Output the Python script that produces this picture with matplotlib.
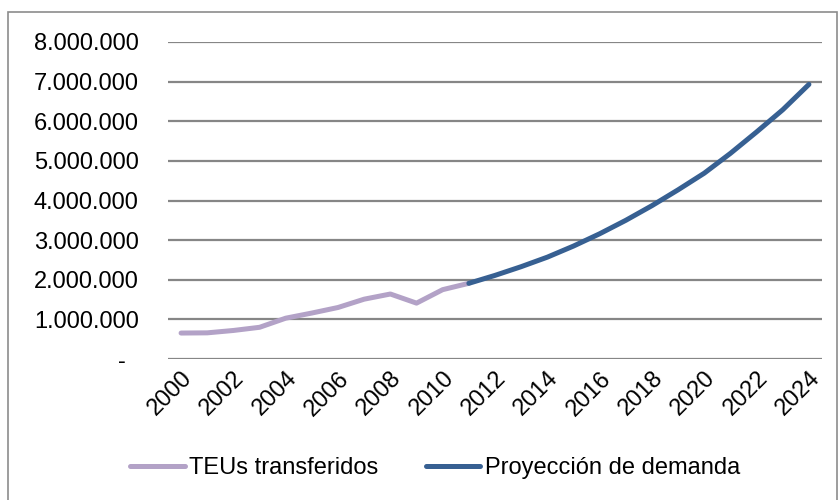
import matplotlib
matplotlib.use("Agg")
import matplotlib.pyplot as plt
from matplotlib.patches import Rectangle

plt.rcParams['font.family'] = ['Liberation Sans', 'DejaVu Sans']

years_hist = [2000, 2001, 2002, 2003, 2004, 2005, 2006, 2007, 2008, 2009, 2010, 2011]
teus_hist = [655000, 660000, 720000, 800000, 1030000, 1160000, 1300000, 1510000, 1640000, 1410000, 1750000, 1910000]

years_proj = [2011, 2012, 2013, 2014, 2015, 2016, 2017, 2018, 2019, 2020, 2021, 2022, 2023, 2024]
teus_proj = [1910000, 2110000, 2330000, 2570000, 2850000, 3160000, 3500000, 3870000, 4270000, 4690000, 5190000, 5730000, 6290000, 6930000]

x_ticks = list(range(2000, 2025, 2))
y_ticks = [0, 1000000, 2000000, 3000000, 4000000, 5000000, 6000000, 7000000, 8000000]
y_labels = ['-  ', '1.000.000', '2.000.000', '3.000.000', '4.000.000', '5.000.000', '6.000.000', '7.000.000', '8.000.000']

c_hist = '#B3A2C7'
c_proj = '#376092'
fs = 17

fig = plt.figure(figsize=(8.4, 5.0), dpi=100)
fig.patches.append(Rectangle((8/840, -0.01), 829/840, 1 - 12/500 + 0.01, transform=fig.transFigure,
                             fill=False, edgecolor='#8c8c8c', linewidth=1.2))
ax = fig.add_axes([168/840, 1 - 359/500, (822-168)/840, (359-42)/500])

ax.plot(years_hist, teus_hist, color=c_hist, lw=3.6, solid_capstyle='round', solid_joinstyle='round',
        label='TEUs transferidos', zorder=3)
ax.plot(years_proj, teus_proj, color=c_proj, lw=3.6, solid_capstyle='round', solid_joinstyle='round',
        label='Proyección de demanda', zorder=4)

ax.set_xlim(1999.5, 2024.5)
ax.set_ylim(0, 8000000)
ax.set_yticks(y_ticks)
ax.set_yticklabels(y_labels, fontsize=fs)
ax.set_xticks(x_ticks)
ax.set_xticklabels([str(y) for y in x_ticks], fontsize=fs, rotation=45, ha='right', rotation_mode='anchor')
ax.tick_params(axis='both', length=0)
ax.tick_params(axis='y', pad=21)
ax.tick_params(axis='x', pad=6)
ax.grid(axis='y', color='#868686', lw=1.6)
ax.set_axisbelow(True)
for s in ax.spines.values():
    s.set_visible(False)

fig.legend(loc='center', bbox_to_anchor=(0.518, 1 - 468/500), ncol=2, frameon=False, fontsize=fs,
           handlelength=2.3, handletextpad=0.2, columnspacing=2.0)

fig.savefig('out.png', dpi=100)
